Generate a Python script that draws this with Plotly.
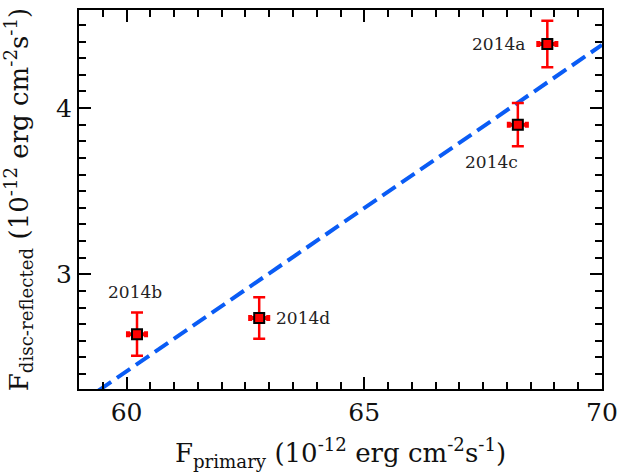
import plotly.graph_objects as go

# Data
labels = ["2014a", "2014c", "2014b", "2014d"]
f_primary = [68.85, 68.23, 60.22, 62.79]
f_primary_err = [0.19, 0.19, 0.19, 0.19]
f_refl = [4.385, 3.90, 2.64, 2.737]
f_refl_err = [0.14, 0.13, 0.13, 0.125]
fit_x = [59.0, 70.0]
fit_y = [2.22, 4.38]
x_ticks = [60, 65, 70]
y_ticks = [3, 4]

FONT = "DejaVu Serif"

fig = go.Figure()
fig.add_trace(go.Scatter(
    x=fit_x, y=fit_y, mode="lines",
    line=dict(color="#0a5cf5", width=4, dash="16px,7px"),
    hoverinfo="skip", showlegend=False))
fig.add_trace(go.Scatter(
    x=f_primary, y=f_refl, mode="markers",
    marker=dict(symbol="square", size=10, color="#ff0000",
                line=dict(color="black", width=2)),
    error_x=dict(type="data", array=f_primary_err, color="#ff0000",
                 thickness=4, width=3),
    error_y=dict(type="data", array=f_refl_err, color="#ff0000",
                 thickness=2.5, width=6),
    showlegend=False))

# label placement offsets (pixels)
offs = {
    "2014a": dict(xanchor="right", yanchor="middle", xshift=-20, yshift=0),
    "2014c": dict(xanchor="right", yanchor="middle", xshift=2, yshift=-37),
    "2014b": dict(xanchor="center", yanchor="middle", xshift=-2, yshift=42),
    "2014d": dict(xanchor="left", yanchor="middle", xshift=15, yshift=0),
}
for lab, x, y in zip(labels, f_primary, f_refl):
    fig.add_annotation(x=x, y=y, text=lab, showarrow=False,
                       font=dict(family=FONT, size=17, color="#222"),
                       **offs[lab])

axis_common = dict(
    showgrid=False, zeroline=False, showline=True, linecolor="black",
    linewidth=2, mirror="allticks", ticks="inside", ticklen=12,
    tickwidth=2, tickcolor="black", automargin=False,
    tickfont=dict(family=FONT, size=25, color="#111"),
)
fig.update_xaxes(
    range=[59.0, 70.0], tickvals=x_ticks,
    minor=dict(dtick=0.5, tick0=0, ticks="inside", ticklen=7,
               tickwidth=2, tickcolor="black"),
    title=dict(text="F<sub>primary</sub> (10<sup>-12</sup> erg cm<sup>-2</sup>s<sup>-1</sup>)",
               font=dict(family=FONT, size=26, color="#111"), standoff=18),
    **axis_common)
fig.update_yaxes(
    range=[2.31, 4.59], tickvals=y_ticks,
    minor=dict(dtick=0.1, tick0=0, ticks="inside", ticklen=7,
               tickwidth=2, tickcolor="black"),
    title=dict(text="F<sub>disc-reflected</sub> (10<sup>-12</sup> erg cm<sup>-2</sup>s<sup>-1</sup>)",
               font=dict(family=FONT, size=26, color="#111"), standoff=22),
    **axis_common)

fig.update_layout(
    width=618, height=475,
    margin=dict(l=79, r=16, t=10, b=86),
    paper_bgcolor="white", plot_bgcolor="white",
)
# remove the page's default body margin so the figure fills the window exactly
fig.write_html(
    "out.html",
    config={"displayModeBar": False},
    post_script="document.body.style.margin='0';document.body.style.overflow='hidden';",
)
